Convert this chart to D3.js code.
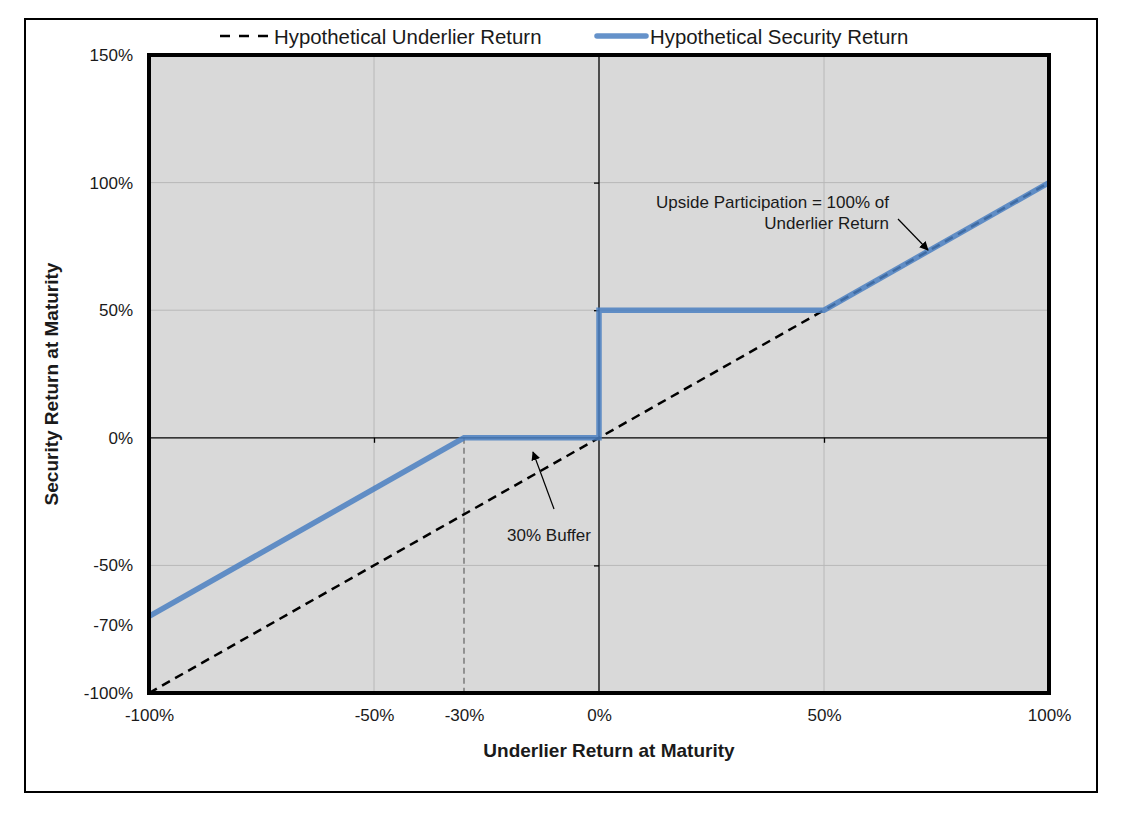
<!DOCTYPE html>
<html>
<head>
<meta charset="utf-8">
<script src="https://cdn.jsdelivr.net/npm/d3@7"></script>
<style>
  html, body { margin: 0; padding: 0; background: #ffffff; }
  svg { display: block; font-family: "Liberation Sans", Arial, sans-serif; }
</style>
</head>
<body>
<svg id="chart" width="1125" height="831"></svg>
<script>
// ---- data ----
const underlierX = [-100, 100];
const underlierY = [-100, 100];
const securityX = [-100, -30, 0, 0, 50, 100];
const securityY = [-70, 0, 0, 50, 50, 100];
const xTicks = [-100, -50, -30, 0, 50, 100];
const yTicks = [150, 100, 50, 0, -50, -70, -100];
const xGrid = [-50, 50];
const yGrid = [100, 50, -50];
const bufferLevel = [-30];
const legendLabels = ["Hypothetical Underlier Return", "Hypothetical Security Return"];
const xTitle = "Underlier Return at Maturity";
const yTitle = "Security Return at Maturity";
const noteBuffer = "30% Buffer";
const noteUpside = ["Upside Participation = 100% of", "Underlier Return"];

// ---- layout ----
const L = 149, R = 1049, T = 55, B = 693;
const svg = d3.select("#chart");

const x = d3.scaleLinear().domain([-100, 100]).range([L, R]);
const y = d3.scaleLinear().domain([-100, 150]).range([B, T]);
const pct = d => d + "%";

const blue = "#4a7fc1";

// outer border
svg.append("rect").attr("x", 25).attr("y", 19).attr("width", 1072).attr("height", 773)
  .attr("fill", "none").attr("stroke", "#000").attr("stroke-width", 2);

// plot background
svg.append("rect").attr("x", L).attr("y", T).attr("width", R - L).attr("height", B - T)
  .attr("fill", "#d9d9d9");

// grid
svg.append("g").selectAll("line").data(xGrid).join("line")
  .attr("x1", d => x(d)).attr("x2", d => x(d)).attr("y1", T).attr("y2", B)
  .attr("stroke", "#b8b8b8").attr("stroke-width", 1);
svg.append("g").selectAll("line").data(yGrid).join("line")
  .attr("x1", L).attr("x2", R).attr("y1", d => y(d)).attr("y2", d => y(d))
  .attr("stroke", "#b8b8b8").attr("stroke-width", 1);

// buffer dashed vertical
svg.append("g").selectAll("line").data(bufferLevel).join("line")
  .attr("x1", d => x(d)).attr("x2", d => x(d)).attr("y1", y(0)).attr("y2", B)
  .attr("stroke", "#7a7a7a").attr("stroke-width", 1.5).attr("stroke-dasharray", "6,4");

// zero axes
svg.append("line").attr("x1", x(0)).attr("x2", x(0)).attr("y1", T).attr("y2", B)
  .attr("stroke", "#000").attr("stroke-width", 1.3);
svg.append("line").attr("x1", L).attr("x2", R).attr("y1", y(0)).attr("y2", y(0))
  .attr("stroke", "#000").attr("stroke-width", 1.3);

// small tick marks on zero axes
svg.append("g").attr("transform", `translate(${x(0)},0)`)
  .call(d3.axisLeft(y).tickValues([150, 100, 50, -50, -100]).tickSize(5).tickFormat(""))
  .call(g => g.select(".domain").remove())
  .call(g => g.selectAll("line").attr("stroke", "#000").attr("stroke-width", 1.3));
svg.append("g").attr("transform", `translate(0,${y(0)})`)
  .call(d3.axisBottom(x).tickValues([-50, 50]).tickSize(5).tickFormat(""))
  .call(g => g.select(".domain").remove())
  .call(g => g.selectAll("line").attr("stroke", "#000").attr("stroke-width", 1.3));

// lines
const lineGen = d3.line().x(d => x(d[0])).y(d => y(d[1]));
const underlier = underlierX.map((v, i) => [v, underlierY[i]]);
const security = securityX.map((v, i) => [v, securityY[i]]);

svg.append("path").datum(underlier).attr("d", lineGen)
  .attr("fill", "none").attr("stroke", "#000").attr("stroke-width", 2.5)
  .attr("stroke-dasharray", "9,6");
svg.append("path").datum(security).attr("d", lineGen)
  .attr("fill", "none").attr("stroke", blue).attr("stroke-width", 5.5)
  .attr("stroke-opacity", 0.85).attr("stroke-linejoin", "miter");

// plot frame
svg.append("rect").attr("x", L).attr("y", T).attr("width", R - L).attr("height", B - T)
  .attr("fill", "none").attr("stroke", "#000").attr("stroke-width", 4);

// tick labels
const yAxis = svg.append("g").attr("transform", `translate(${L},0)`)
  .call(d3.axisLeft(y).tickValues(yTicks).tickSize(0).tickPadding(16).tickFormat(pct));
yAxis.select(".domain").remove();
yAxis.selectAll("text").attr("font-size", 17).attr("fill", "#1a1a1a")
  .attr("font-family", "Liberation Sans, Arial, sans-serif")
  .attr("dy", d => d === -70 ? "0.85em" : "0.32em");

const xAxis = svg.append("g").attr("transform", `translate(0,${B})`)
  .call(d3.axisBottom(x).tickValues(xTicks).tickSize(0).tickPadding(16).tickFormat(pct));
xAxis.select(".domain").remove();
xAxis.selectAll("text").attr("font-size", 17).attr("fill", "#1a1a1a")
  .attr("font-family", "Liberation Sans, Arial, sans-serif");

// axis titles
svg.append("text").attr("x", (L + R) / 2 + 10).attr("y", 757).attr("text-anchor", "middle")
  .attr("font-size", 19).attr("font-weight", "bold").attr("fill", "#1a1a1a").text(xTitle);
svg.append("text").attr("transform", `translate(58,${(T + B) / 2 + 10}) rotate(-90)`)
  .attr("text-anchor", "middle").attr("font-size", 19).attr("font-weight", "bold")
  .attr("fill", "#1a1a1a").text(yTitle);

// legend
svg.append("line").attr("x1", 220).attr("x2", 268).attr("y1", 36).attr("y2", 36)
  .attr("stroke", "#000").attr("stroke-width", 2.5).attr("stroke-dasharray", "10,9");
svg.append("text").attr("x", 274).attr("y", 44).attr("font-size", 20.4).attr("fill", "#1a1a1a")
  .text(legendLabels[0]);
svg.append("line").attr("x1", 597).attr("x2", 646).attr("y1", 36).attr("y2", 36)
  .attr("stroke", blue).attr("stroke-opacity", 0.85).attr("stroke-width", 5.5).attr("stroke-linecap", "round");
svg.append("text").attr("x", 650).attr("y", 44).attr("font-size", 20.4).attr("fill", "#1a1a1a")
  .text(legendLabels[1]);

// arrow marker
svg.append("defs").append("marker").attr("id", "arr")
  .attr("viewBox", "0 0 10 10").attr("refX", 9).attr("refY", 5)
  .attr("markerWidth", 9).attr("markerHeight", 9).attr("markerUnits", "userSpaceOnUse")
  .attr("orient", "auto")
  .append("path").attr("d", "M0,0 L10,5 L0,10 Z").attr("fill", "#000");

// annotations
svg.append("text").attr("x", 549).attr("y", 541).attr("text-anchor", "middle")
  .attr("font-size", 17).attr("fill", "#1a1a1a").text(noteBuffer);
svg.append("line").attr("x1", 554).attr("y1", 509).attr("x2", 533).attr("y2", 452)
  .attr("stroke", "#000").attr("stroke-width", 1.2).attr("marker-end", "url(#arr)");

svg.append("text").attr("x", 889).attr("y", 208).attr("text-anchor", "end")
  .attr("font-size", 17).attr("fill", "#1a1a1a").text(noteUpside[0]);
svg.append("text").attr("x", 889).attr("y", 229).attr("text-anchor", "end")
  .attr("font-size", 17).attr("fill", "#1a1a1a").text(noteUpside[1]);
svg.append("line").attr("x1", 898).attr("y1", 219).attr("x2", 928).attr("y2", 250)
  .attr("stroke", "#000").attr("stroke-width", 1.2).attr("marker-end", "url(#arr)");
</script>
</body>
</html>
